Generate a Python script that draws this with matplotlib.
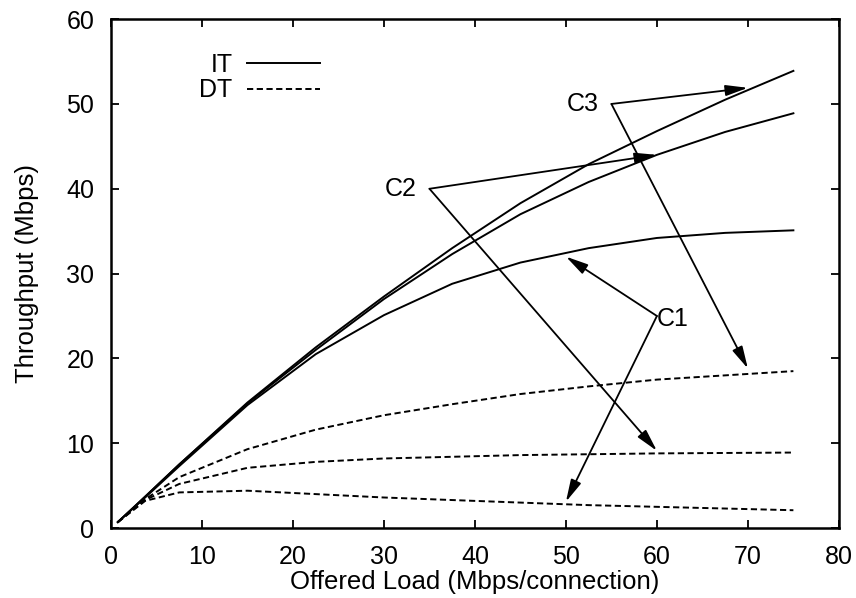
import numpy as np
import matplotlib
matplotlib.use('Agg')
import matplotlib.pyplot as plt

plt.rcParams['font.family'] = ['Liberation Sans', 'DejaVu Sans']

# offered load (Mbps/connection)
load = [0.75, 3.75, 7.5, 15, 22.5, 30, 37.5, 45, 52.5, 60, 67.5, 75]

# IT (solid) throughput per configuration
it_c1 = [0.7, 3.6, 7.3, 14.5, 20.5, 25.1, 28.8, 31.3, 33.0, 34.2, 34.8, 35.1]
it_c2 = [0.7, 3.7, 7.5, 14.7, 21.0, 27.0, 32.3, 37.0, 40.8, 44.0, 46.7, 48.9]
it_c3 = [0.7, 3.7, 7.5, 14.8, 21.3, 27.3, 33.0, 38.3, 42.9, 46.8, 50.5, 53.9]

# DT (dashed) throughput per configuration
dt_c1 = [0.7, 3.2, 4.2, 4.4, 4.0, 3.6, 3.3, 3.0, 2.7, 2.5, 2.3, 2.1]
dt_c2 = [0.7, 3.3, 5.2, 7.1, 7.8, 8.2, 8.4, 8.6, 8.7, 8.8, 8.85, 8.9]
dt_c3 = [0.7, 3.4, 6.0, 9.3, 11.6, 13.3, 14.6, 15.8, 16.7, 17.5, 18.0, 18.5]

# annotation labels: (text, arrow origin, arrow targets)
labels = ['C1', 'C2', 'C3']
label_pos = [(60, 25), (35, 40), (55, 50)]
arrow_tips = [[(50, 32.0), (50, 3.1)],
              [(60, 44.0), (60, 9.1)],
              [(70, 51.9), (70, 18.8)]]

fig = plt.figure(figsize=(8.56, 5.98), dpi=100)
ax = fig.add_axes([0.1297, 0.117, 0.8503, 0.851])

lw = 1.4
ax.plot(load, it_c1, color='black', lw=lw, label='IT')
ax.plot(load, it_c2, color='black', lw=lw)
ax.plot(load, it_c3, color='black', lw=lw)
dash = (0, (3.2, 1.8))
ax.plot(load, dt_c1, color='black', lw=lw, ls=dash, label='DT')
ax.plot(load, dt_c2, color='black', lw=lw, ls=dash)
ax.plot(load, dt_c3, color='black', lw=lw, ls=dash)

for lab, (lx, ly), tips in zip(labels, label_pos, arrow_tips):
    if lab == 'C1':
        ax.text(lx, ly - 0.3, lab, ha='left', va='center', fontsize=18)
    else:
        ax.text(lx - 1.4, ly, lab, ha='right', va='center', fontsize=18)
    for tx, ty in tips:
        ax.annotate('', xy=(tx, ty), xytext=(lx, ly),
                    arrowprops=dict(arrowstyle='-|>,head_length=0.9,head_width=0.22',
                                    color='black', lw=1.3, shrinkA=0, shrinkB=0,
                                    mutation_scale=15))

ax.set_xlim(0, 80)
ax.set_ylim(0, 60)
ax.set_xticks(np.arange(0, 81, 10))
ax.set_yticks(np.arange(0, 61, 10))
ax.tick_params(direction='in', length=6, width=1.3, top=True, right=True,
               labelsize=18)
ax.tick_params(axis='y', pad=12)
ax.tick_params(axis='x', pad=12)
for sp in ax.spines.values():
    sp.set_linewidth(1.8)

ax.set_xlabel('Offered Load (Mbps/connection)', fontsize=18.5, labelpad=1)
ax.set_ylabel('Throughput (Mbps)', fontsize=18.5, labelpad=20)

leg = ax.legend(loc='upper right', bbox_to_anchor=(0.287, 0.933), frameon=False,
                markerfirst=False, fontsize=18, handlelength=2.9,
                handletextpad=0.6, labelspacing=0.05, borderpad=0,
                borderaxespad=0)
for t in leg.get_texts():
    t.set_ha('right')

fig.savefig('out.png', dpi=100)
